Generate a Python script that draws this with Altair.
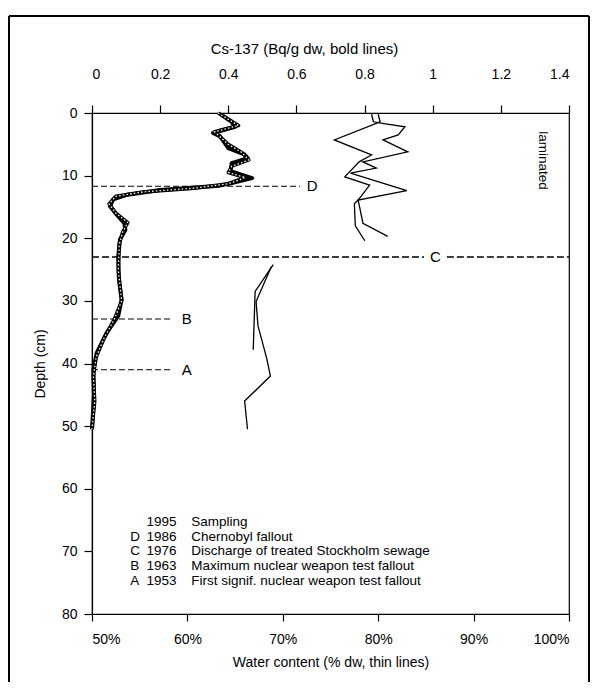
import altair as alt
import pandas as pd

# ---------------- data ----------------
# Cs-137 core 1 (bold solid)
cs1_depth = [0.3, 1.4, 2.2, 3.2, 3.7, 4.8, 5.6, 6.6, 7.2, 8.0, 9.3, 10.4, 11.2, 11.6, 12.3, 13.1,
             13.8, 14.9, 16.2, 17.6, 18.7, 20.2, 22.9, 26.6, 29.8, 32.4, 35.1, 38.3, 41.0, 45.0, 50.5]
cs1_val = [0.38, 0.41, 0.42, 0.355, 0.375, 0.39, 0.40, 0.447, 0.457, 0.41, 0.407, 0.47, 0.41, 0.374, 0.20, 0.10,
           0.062, 0.053, 0.072, 0.095, 0.098, 0.082, 0.077, 0.079, 0.087, 0.077, 0.043, 0.014, 0.004, 0.006, 0.0]
# Cs-137 core 2 (bold dotted)
cs2_depth = [0.0, 1.0, 2.0, 3.0, 4.0, 5.0, 6.3, 7.5, 8.5, 9.5, 10.3, 11.3, 12.0, 12.6, 13.3, 14.5,
             16.0, 17.5, 19.0, 21.0, 25.0, 30.0, 33.0, 36.0, 39.0, 42.0, 46.0, 50.5]
cs2_val = [0.37, 0.40, 0.43, 0.36, 0.38, 0.40, 0.44, 0.46, 0.41, 0.40, 0.45, 0.40, 0.30, 0.15, 0.07, 0.05,
           0.07, 0.105, 0.09, 0.08, 0.077, 0.087, 0.065, 0.035, 0.012, 0.004, 0.008, 0.0]

# water content, thin lines
wA_depth = [0.2, 1.4, 1.7, 2.2, 3.5, 4.3, 6.2, 7.8, 8.8, 9.6, 12.4, 13.9, 17.6, 19.7]
wA_val = [79.3, 79.5, 80.6, 82.8, 82.1, 80.5, 83.1, 78.4, 79.8, 77.1, 83.0, 77.9, 78.4, 81.0]
wB_depth = [0.2, 1.4, 4.3, 6.7, 7.8, 10.2, 11.5, 13.9, 14.5, 18.0, 20.4]
wB_val = [80.0, 80.2, 75.4, 79.3, 78.0, 76.5, 79.1, 77.9, 77.5, 77.6, 78.6]
wC_depth = [24.2, 28.5, 37.8]
wC_val = [69.0, 67.1, 66.9]
wD_depth = [24.5, 30.1, 34.0, 39.1, 42.0, 46.0, 50.5]
wD_val = [68.8, 67.2, 67.4, 68.3, 68.7, 66.0, 66.3]

# dating horizons
hz_label = ["D", "C", "C", "B", "A"]
hz_depth = [11.7, 23.0, 23.0, 32.9, 41.0]
hz_from = [50.0, 50.0, 87.2, 50.0, 50.0]
hz_to = [71.8, 84.8, 100.0, 58.2, 58.2]
lab_text = ["D", "C", "B", "A"]
lab_depth = [11.7, 23.0, 32.9, 41.0]
lab_wc = [72.5, 86.0, 59.4, 59.4]

# legend text
leg_letter = ["", "D", "C", "B", "A"]
leg_year = ["1995", "1986", "1976", "1963", "1953"]
leg_desc = ["Sampling", "Chernobyl fallout", "Discharge of treated Stockholm sewage",
            "Maximum nuclear weapon test fallout", "First signif. nuclear weapon test fallout"]
leg_depth = [65.3, 67.65, 70.0, 72.35, 74.7]

cs_ticks = [0, 0.2, 0.4, 0.6, 0.8, 1, 1.2, 1.4]
wc_ticks = [50, 60, 70, 80, 90, 100]
depth_ticks = [0, 10, 20, 30, 40, 50, 60, 70, 80]

# ---------------- frames ----------------
def line_df(depths, vals, field):
    return pd.DataFrame({"depth": depths, field: vals, "idx": list(range(len(depths)))})

cs1 = line_df(cs1_depth, cs1_val, "cs")
cs2 = line_df(cs2_depth, cs2_val, "cs")
wA = line_df(wA_depth, wA_val, "wc")
wB = line_df(wB_depth, wB_val, "wc")
wC = line_df(wC_depth, wC_val, "wc")
wD = line_df(wD_depth, wD_val, "wc")
hz = pd.DataFrame({"label": hz_label, "depth": hz_depth, "wc": hz_from, "wc2": hz_to})
labs = pd.DataFrame({"label": lab_text, "depth": lab_depth, "wc": lab_wc})
leg = pd.DataFrame({"letter": leg_letter, "year": leg_year, "desc": leg_desc, "depth": leg_depth})

W, H = 477, 501
FONT = "Liberation Sans"
FS = 14
LFS = 13.5

axis_common = dict(grid=False, domainColor="black", tickColor="black", labelColor="black",
                   titleColor="black", labelFont=FONT, titleFont=FONT, labelFontSize=FS,
                   titleFontWeight="normal", domainWidth=1.2, tickWidth=1.2)

Y = alt.Y("depth:Q", scale=alt.Scale(domain=[0, 80], reverse=True, nice=False, zero=False),
          axis=alt.Axis(title="Depth (cm)", values=depth_ticks, tickSize=8, labelPadding=7,
                        titlePadding=14, titleFontSize=FS, **axis_common))

XW = alt.X("wc:Q", scale=alt.Scale(domain=[50, 100], nice=False, zero=False),
           axis=alt.Axis(title="Water content (% dw, thin lines)", values=wc_ticks,
                         labelExpr="datum.value + '%'", tickSize=7, labelPadding=11,
                         titlePadding=9, titleFontSize=14, **axis_common))

XC = alt.X("cs:Q", scale=alt.Scale(domain=[0, 1.4], nice=False, zero=False),
           axis=alt.Axis(orient="top", title="Cs-137 (Bq/g dw, bold lines)", values=cs_ticks,
                         format="~g", tickSize=8, labelPadding=24, titlePadding=11,
                         titleFontSize=15, titleX=212, titleAlign="center",
                         **axis_common))

# ---------------- water group ----------------
def wline(df):
    return alt.Chart(df).mark_line(color="black", strokeWidth=1.3).encode(
        x=XW, y=Y, order="idx:Q")

hz_thin = alt.Chart(hz[hz["label"] != "C"]).mark_rule(
    color="black", strokeWidth=1.1, strokeDash=[6, 3]).encode(x=XW, x2="wc2:Q", y=Y)
hz_c = alt.Chart(hz[hz["label"] == "C"]).mark_rule(
    color="black", strokeWidth=1.6, strokeDash=[7, 3]).encode(x=XW, x2="wc2:Q", y=Y)

lab_left = alt.Chart(labs[labs["label"] != "C"]).mark_text(
    font=FONT, fontSize=15, align="left", baseline="middle", color="black").encode(
    x=XW, y=Y, text="label:N")
lab_c = alt.Chart(labs[labs["label"] == "C"]).mark_text(
    font=FONT, fontSize=15, align="center", baseline="middle", color="black").encode(
    x=XW, y=Y, text="label:N")

lam = alt.Chart(pd.DataFrame({"wc": [97.3], "depth": [7.6], "t": ["laminated"]})).mark_text(
    font=FONT, fontSize=13.5, angle=90, align="center", baseline="middle", color="black").encode(
    x=XW, y=Y, text="t:N")

leg_l = alt.Chart(leg).transform_calculate(wc="54.0").mark_text(
    font=FONT, fontSize=LFS, align="left", baseline="middle", color="black").encode(
    x=XW, y=Y, text="letter:N")
leg_y = alt.Chart(leg).transform_calculate(wc="55.7").mark_text(
    font=FONT, fontSize=LFS, align="left", baseline="middle", color="black").encode(
    x=XW, y=Y, text="year:N")
leg_d = alt.Chart(leg).transform_calculate(wc="60.4").mark_text(
    font=FONT, fontSize=LFS, align="left", baseline="middle", color="black").encode(
    x=XW, y=Y, text="desc:N")

water = alt.layer(wline(wA), wline(wB), wline(wC), wline(wD), hz_thin, hz_c,
                  lab_left, lab_c, lam, leg_l, leg_y, leg_d)

# ---------------- Cs group ----------------
c1 = alt.Chart(cs1).mark_line(color="black", strokeWidth=4, strokeJoin="round").encode(
    x=XC, y=Y, order="idx:Q")
c2 = alt.Chart(cs2).mark_line(color="black", strokeWidth=3.5, strokeJoin="round").encode(
    x=XC, y=Y, order="idx:Q")
c2w = alt.Chart(cs2).mark_line(color="white", strokeWidth=1.3, strokeDash=[1.5, 2.2]).encode(
    x=XC, y=Y, order="idx:Q")
cs = alt.layer(c1, c2, c2w)

# ---------------- outer frame ----------------
frame_src = pd.DataFrame({"k": [0]})
fl = alt.Chart(frame_src).mark_rule(color="black", strokeWidth=2).encode(
    x=alt.value(-83), y=alt.value(-97), y2=alt.value(H + 70))
fr = alt.Chart(frame_src).mark_rule(color="black", strokeWidth=2).encode(
    x=alt.value(W + 20), y=alt.value(-97), y2=alt.value(H + 70))
ft = alt.Chart(frame_src).mark_rule(color="black", strokeWidth=2).encode(
    x=alt.value(-83), x2=alt.value(W + 20), y=alt.value(-97))

chart = alt.layer(water, cs, fl, fr, ft).resolve_scale(x="independent").properties(
    width=W, height=H,
    padding={"left": 84, "top": 105, "right": 22, "bottom": 68},
    autosize=alt.AutoSizeParams(type="none"),
    background="white",
).configure_view(stroke="black", strokeWidth=1.2)

chart.save("out.html", embed_options={"renderer": "svg", "actions": False})
